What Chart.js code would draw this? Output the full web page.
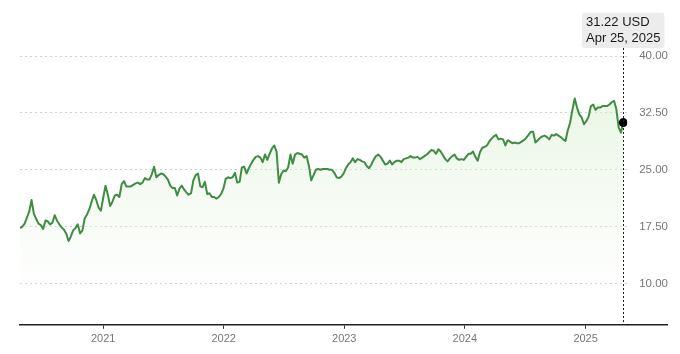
<!DOCTYPE html>
<html>

<head>
    <title>5Y price</title>
    <style>
        body { margin: 0; background: #fff; }
        #wrap { width: 680px; height: 354px; position: relative; }
    </style>
</head>

<body>
    <div id="wrap"><canvas id="myChart"></canvas></div>
    <script src="https://cdn.jsdelivr.net/npm/chart.js@4.4.1/dist/chart.umd.min.js"></script>

    <script type="text/javascript">
        // weekly closes (USD), first one is Friday 2020-04-24, last one 2025-04-25
        const firstWeek = '2020-04-24';
        const weekClose = [
            17.3, 17.5, 17.9, 18.7, 19.5, 21.0, 19.2, 18.5, 17.9, 17.7,
            17.2, 18.3, 18.2, 17.8, 18.0, 19.0, 18.3, 17.8, 17.4, 17.1,
            16.6, 15.6, 16.2, 17.0, 17.3, 17.8, 16.6, 17.0, 18.6, 19.1,
            19.8, 20.8, 21.7, 21.0, 20.0, 19.6, 21.3, 22.9, 21.7, 20.2,
            20.8, 21.6, 21.7, 21.4, 23.1, 23.5, 22.8, 22.8, 22.8, 23.0,
            23.2, 23.3, 23.1, 23.3, 23.9, 23.7, 23.7, 24.4, 25.4, 24.0,
            24.3, 24.5, 24.4, 24.1, 23.7, 22.9, 22.6, 22.6, 21.6, 22.5,
            22.9, 22.4, 22.0, 21.7, 21.9, 23.6, 24.3, 24.5, 22.8, 22.7,
            23.4, 21.8, 21.9, 21.4, 21.4, 21.2, 21.4, 21.8, 22.5, 23.8,
            24.0, 23.9, 24.0, 24.6, 23.3, 23.4, 25.3, 25.4, 24.5, 25.2,
            25.8, 26.3, 26.7, 26.8, 26.6, 26.0, 27.0, 26.3, 27.1, 27.8,
            28.2, 27.4, 23.3, 24.4, 24.9, 24.8, 25.3, 27.0, 25.8, 27.0,
            27.2, 27.1, 27.0, 26.6, 26.8, 25.5, 23.6, 24.3, 25.0, 25.1,
            25.0, 25.1, 25.1, 25.1, 25.0, 25.0, 24.6, 24.0, 23.9, 24.1,
            24.5, 25.2, 25.7, 26.0, 26.5, 26.0, 26.4, 26.3, 26.1, 26.0,
            25.5, 25.2, 25.7, 26.3, 26.8, 27.0, 26.7, 26.2, 25.7, 25.8,
            26.2, 25.7, 26.0, 26.2, 26.2, 26.0, 26.4, 26.5, 26.6, 26.8,
            26.6, 26.6, 26.7, 26.4, 26.6, 26.8, 27.0, 27.3, 27.6, 27.5,
            27.1, 27.7, 27.4, 26.9, 26.4, 26.1, 26.5, 26.8, 27.0, 26.5,
            26.3, 26.4, 26.3, 26.7, 27.1, 27.1, 27.4, 26.7, 26.2, 27.3,
            27.9, 28.0, 28.2, 28.7, 29.1, 29.4, 29.6, 29.0, 29.1, 29.0,
            28.2, 28.9, 28.7, 28.5, 28.6, 28.5, 28.5, 28.7, 28.9, 29.2,
            29.6, 30.0, 30.0, 28.6, 28.9, 29.2, 29.4, 29.5, 29.3, 29.0,
            29.6, 29.5, 29.7, 29.5, 29.3, 29.0, 28.8, 30.2, 31.2, 32.9,
            34.4, 33.2, 32.3, 31.9, 31.0, 31.4, 32.0, 33.4, 33.6, 32.9,
            33.2, 33.2, 33.4, 33.4, 33.4, 33.6, 33.9, 34.1, 33.0, 30.6,
            29.9, 31.22
        ];
        const yearTicks = [2021, 2022, 2023, 2024, 2025];
        const priceTicks = [10, 17.5, 25, 32.5, 40];
        const axisEnd = '2025-05-07';

        const DAY = 86400000;
        const t0 = Date.parse(firstWeek);
        const points = weekClose.map((v, i) => ({ x: t0 + i * 7 * DAY, y: v }));
        const last = points.length - 1;

        function fmtDate(ms) {
            return new Date(ms).toLocaleDateString('en-US', { month: 'short', day: 'numeric', year: 'numeric', timeZone: 'UTC' });
        }

        Chart.defaults.font.family = '"Liberation Sans", Arial, sans-serif';

        Chart.Tooltip.positioners.aboveChart = function (items) {
            if (!items.length) return false;
            return { x: items[0].element.x, y: this.chart.chartArea.top - 8 };
        };

        // dotted marker line + axis line running under the price labels
        const markerLine = {
            id: 'markerLine',
            afterDatasetsDraw(chart) {
                const ctx = chart.ctx;
                const ca = chart.chartArea;
                const el = chart.getDatasetMeta(0).data[last];
                ctx.save();
                ctx.strokeStyle = '#222';
                ctx.lineWidth = 1.5;
                ctx.beginPath();
                ctx.moveTo(ca.right, ca.bottom);
                ctx.lineTo(chart.width - 12, ca.bottom);
                ctx.stroke();
                ctx.lineWidth = 1;
                ctx.setLineDash([2, 2]);
                ctx.beginPath();
                ctx.moveTo(Math.round(el.x) + 0.5, ca.top - 8);
                ctx.lineTo(Math.round(el.x) + 0.5, ca.bottom);
                ctx.stroke();
                ctx.restore();
            }
        };

        const ctx = document.getElementById('myChart').getContext('2d');
        const chart = new Chart(ctx, {
            type: 'line',
            data: {
                datasets: [{
                    data: points,
                    borderColor: '#3f8d43',
                    borderWidth: 2,
                    borderJoinStyle: 'round',
                    tension: 0,
                    fill: 'start',
                    backgroundColor: c => {
                        const ca = c.chart.chartArea;
                        if (!ca) return 'transparent';
                        const g = c.chart.ctx.createLinearGradient(0, ca.top, 0, ca.bottom);
                        g.addColorStop(0, 'rgba(205,235,195,0.55)');
                        g.addColorStop(0.6, 'rgba(232,245,226,0.35)');
                        g.addColorStop(1, 'rgba(255,255,255,0)');
                        return g;
                    },
                    pointRadius: c => c.dataIndex === last ? 4.5 : 0,
                    pointHoverRadius: c => c.dataIndex === last ? 4.5 : 0,
                    pointBackgroundColor: '#000',
                    pointHoverBackgroundColor: '#000',
                    pointBorderWidth: 0,
                    pointHoverBorderWidth: 0
                }]
            },
            options: {
                responsive: true,
                maintainAspectRatio: false,
                animation: false,
                events: [],
                layout: { padding: { top: 56, left: 20, right: 0, bottom: 4 } },
                scales: {
                    x: {
                        type: 'linear',
                        min: t0,
                        max: Date.parse(axisEnd),
                        afterBuildTicks: s => { s.ticks = yearTicks.map(y => ({ value: Date.UTC(y, 0, 1) })); },
                        ticks: {
                            callback: v => new Date(v).getUTCFullYear(),
                            color: '#777',
                            font: { size: 11 },
                            padding: 4,
                            maxRotation: 0,
                            autoSkip: false
                        },
                        grid: { drawOnChartArea: false, drawTicks: true, tickLength: 4, color: '#333' },
                        border: { display: true, color: '#222', width: 1.5 }
                    },
                    y: {
                        position: 'right',
                        min: 4.55,
                        max: 40,
                        afterBuildTicks: s => { s.ticks = priceTicks.map(v => ({ value: v })); },
                        ticks: {
                            callback: v => v.toFixed(2),
                            color: '#777',
                            font: { size: 11.5 },
                            padding: 12
                        },
                        grid: { color: '#cfcfcf', drawTicks: false, lineWidth: 1 },
                        border: { display: false, dash: [2, 3] }
                    }
                },
                plugins: {
                    legend: { display: false },
                    tooltip: {
                        position: 'aboveChart',
                        xAlign: 'center',
                        yAlign: 'bottom',
                        caretSize: 0,
                        caretPadding: 0,
                        backgroundColor: '#ececec',
                        titleColor: '#1a1a1a',
                        bodyColor: '#1a1a1a',
                        titleFont: { size: 13, weight: 'normal' },
                        bodyFont: { size: 13 },
                        titleMarginBottom: 0,
                        padding: { left: 4, right: 4, top: 2, bottom: 2 },
                        cornerRadius: 3,
                        displayColors: false,
                        callbacks: {
                            title: items => items[0].parsed.y.toFixed(2) + ' USD',
                            label: item => fmtDate(item.parsed.x)
                        }
                    }
                }
            },
            plugins: [markerLine]
        });

        const lastEl = chart.getDatasetMeta(0).data[last];
        chart.setActiveElements([{ datasetIndex: 0, index: last }]);
        chart.tooltip.setActiveElements([{ datasetIndex: 0, index: last }], { x: lastEl.x, y: lastEl.y });
        chart.update();
    </script>
</body>

</html>
